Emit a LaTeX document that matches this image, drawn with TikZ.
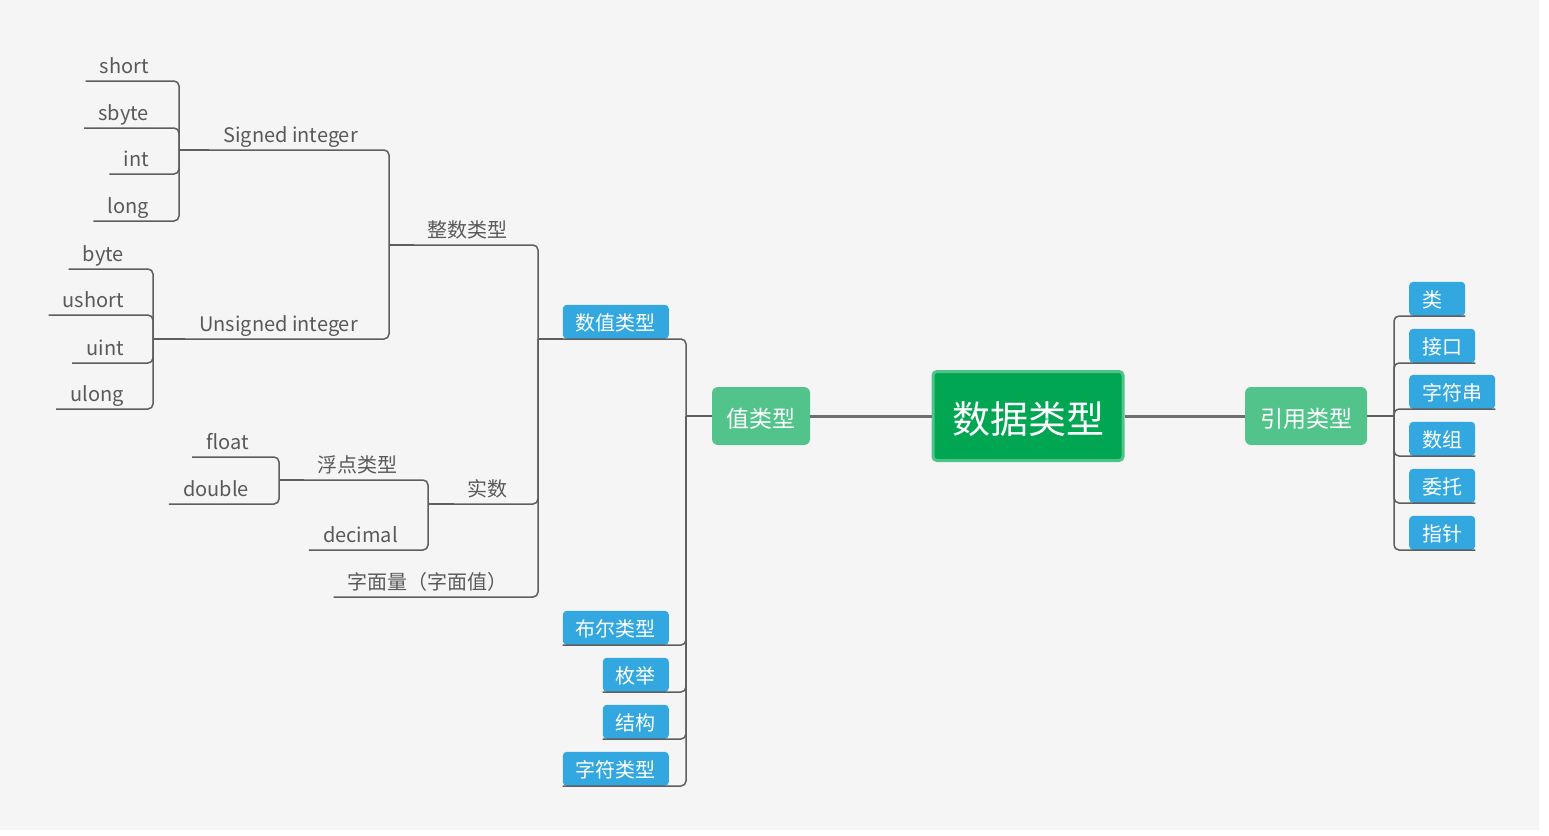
\documentclass[tikz,border=0pt]{standalone}
\usepackage{fontspec}
\setmainfont{Noto Sans CJK SC}
\usepackage{xcolor}
\usepackage{tikz}

\definecolor{bgc}{HTML}{F5F5F5}
\definecolor{linec}{HTML}{5E5E5E}
\definecolor{mainlinec}{HTML}{6E6E6E}
\definecolor{txtc}{HTML}{595959}
\definecolor{rootfill}{HTML}{00A651}
\definecolor{rootedge}{HTML}{4FC48A}
\definecolor{topicgreen}{HTML}{52C48B}
\definecolor{tagblue}{HTML}{33A8E0}

\begin{document}
\begin{tikzpicture}[
  x=1pt, y=-1pt,
  leaf/.style={anchor=south east, inner xsep=14pt, inner ysep=2.5pt, text depth=5pt,
               text=txtc, font=\fontsize{20}{24}\selectfont},
  tag/.style={anchor=south east, fill=tagblue, rounded corners=4pt, inner xsep=13pt,
              minimum height=34pt, text height=18.5pt, text depth=0.5pt,
              text=white, font=\fontsize{20}{24}\selectfont},
  rtag/.style={tag, anchor=south west, minimum width=56pt},
  topic/.style={fill=topicgreen, rounded corners=6pt, minimum height=58pt,
                text height=22.5pt, text depth=0pt,
                text=white, font=\fontsize{23}{28}\selectfont},
  rootbox/.style={fill=rootfill, draw=rootedge, line width=3pt, rounded corners=4pt,
                  minimum width=190pt, minimum height=89pt, text height=36.5pt,
                  text depth=1.5pt, text=white, font=\fontsize{38}{44}\selectfont},
  link/.style={draw=linec, line width=1.5pt, rounded corners=5pt},
  stem/.style={draw=linec, line width=2.2pt},
  mainlink/.style={draw=mainlinec, line width=3pt},
]

% canvas
\useasboundingbox (0,0) rectangle (1549,835);
\fill[white] (0,0) rectangle (1549,835);
\fill[bgc] (0,0) rectangle (1539,830);

% centre
\node[rootbox] (root) at (1028,416) {数据类型};
\node[topic, minimum width=98pt] (val) at (761,416) {值类型};
\node[topic, minimum width=122pt] (ref) at (1306,416) {引用类型};

% junctions
\coordinate (val-j) at (686,416);
\coordinate (num-j) at (538,339);
\coordinate (zs-j) at (389,245);
\coordinate (sig-j) at (179,150);
\coordinate (uns-j) at (153,339);
\coordinate (sm-j) at (428,504);
\coordinate (fd-j) at (279,480);
\coordinate (ref-j) at (1394,416);

% value types
\node[tag] (numbox) at (669,339) {数值类型};
\node[tag] (boolbox) at (669,645) {布尔类型};
\node[tag] (enumbox) at (669,692) {枚举};
\node[tag] (structbox) at (669,739) {结构};
\node[tag] (charbox) at (669,786) {字符类型};

% numeric types
\node[leaf] (zs) at (522,245) {整数类型};
\node[leaf] (sm) at (522,504) {实数};
\node[leaf] (lit) at (522,597) {字面量（字面值）};

% integers
\node[leaf] (sig) at (372,150) {Signed integer};
\node[leaf] (uns) at (372,339) {Unsigned integer};
\node[leaf] (short) at (163,81) {short};
\node[leaf] (sbyte) at (163,128) {sbyte};
\node[leaf] (int) at (163,174) {int};
\node[leaf] (long) at (163,221) {long};
\node[leaf] (byte) at (138,269) {byte};
\node[leaf] (ushort) at (138,315) {ushort};
\node[leaf] (uint) at (138,363) {uint};
\node[leaf] (ulong) at (138,409) {ulong};

% reals
\node[leaf] (fd) at (412,480) {浮点类型};
\node[leaf] (dec) at (412,550) {decimal};
\node[leaf] (float) at (263,457) {float};
\node[leaf] (double) at (263,504) {double};

% reference types
\node[rtag, text width=30pt, align=left] (cls) at (1409,316) {类};
\node[rtag] (iface) at (1409,363) {接口};
\node[rtag] (str) at (1409,409) {字符串};
\node[rtag] (arr) at (1409,456) {数组};
\node[rtag] (dlg) at (1409,503) {委托};
\node[rtag] (ptr) at (1409,550) {指针};

% Connectors
\draw[mainlink] (root) -- (val);
\draw[mainlink] (root) -- (ref);

\draw[stem] (val.west) -- (val-j);
\draw[link] (numbox.south west) -- (numbox.south east) -| (val-j);
\draw[link] (boolbox.south west) -- (boolbox.south east) -| (val-j);
\draw[link] (enumbox.south west) -- (enumbox.south east) -| (val-j);
\draw[link] (structbox.south west) -- (structbox.south east) -| (val-j);
\draw[link] (charbox.south west) -- (charbox.south east) -| (val-j);

\draw[stem] (num-j) -- (numbox.south west);
\draw[link] (zs.south west) -- (zs.south east) -| (num-j);
\draw[link] (sm.south west) -- (sm.south east) -| (num-j);
\draw[link] (lit.south west) -- (lit.south east) -| (num-j);

\draw[stem] (zs-j) -- (zs.south west);
\draw[link] (sig.south west) -- (sig.south east) -| (zs-j);
\draw[link] (uns.south west) -- (uns.south east) -| (zs-j);

\draw[stem] (sig-j) -- (sig.south west);
\draw[link] (short.south west) -- (short.south east) -| (sig-j);
\draw[link] (sbyte.south west) -- (sbyte.south east) -| (sig-j);
\draw[link] (int.south west) -- (int.south east) -| (sig-j);
\draw[link] (long.south west) -- (long.south east) -| (sig-j);

\draw[stem] (uns-j) -- (uns.south west);
\draw[link] (byte.south west) -- (byte.south east) -| (uns-j);
\draw[link] (ushort.south west) -- (ushort.south east) -| (uns-j);
\draw[link] (uint.south west) -- (uint.south east) -| (uns-j);
\draw[link] (ulong.south west) -- (ulong.south east) -| (uns-j);

\draw[stem] (sm-j) -- (sm.south west);
\draw[link] (fd.south west) -- (fd.south east) -| (sm-j);
\draw[link] (dec.south west) -- (dec.south east) -| (sm-j);

\draw[stem] (fd-j) -- (fd.south west);
\draw[link] (float.south west) -- (float.south east) -| (fd-j);
\draw[link] (double.south west) -- (double.south east) -| (fd-j);

\draw[stem] (ref.east) -- (ref-j);
\draw[link] (ref-j) |- (cls.south west) -- (cls.south east);
\draw[link] (ref-j) |- (iface.south west) -- (iface.south east);
\draw[link] (ref-j) |- (str.south west) -- (str.south east);
\draw[link] (ref-j) |- (arr.south west) -- (arr.south east);
\draw[link] (ref-j) |- (dlg.south west) -- (dlg.south east);
\draw[link] (ref-j) |- (ptr.south west) -- (ptr.south east);

\end{tikzpicture}
\end{document}
